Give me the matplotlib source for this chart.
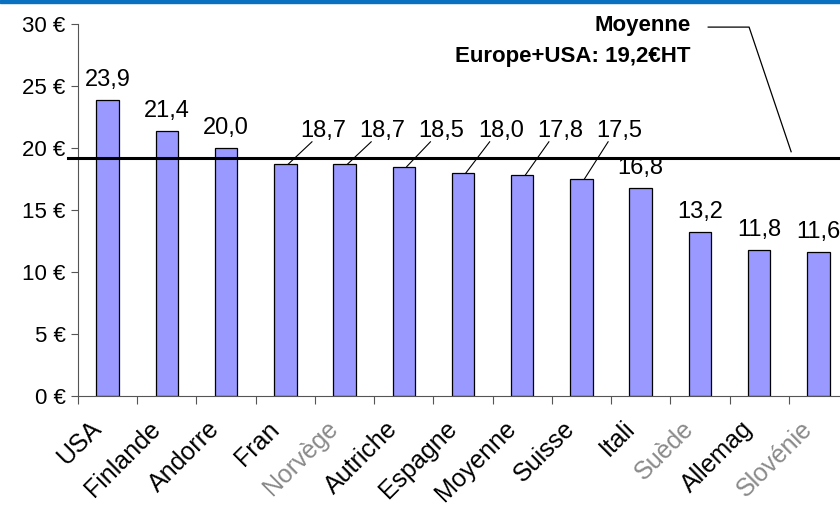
import matplotlib
matplotlib.use("Agg")
import matplotlib.pyplot as plt
from matplotlib.patches import Rectangle
from matplotlib.transforms import ScaledTranslation

plt.rcParams['font.family'] = ['Liberation Sans', 'DejaVu Sans']

# donnees
pays = ['USA', 'Finlande', 'Andorre', 'Fran', 'Norvège', 'Autriche', 'Espagne',
        'Moyenne', 'Suisse', 'Itali', 'Suède', 'Allemag', 'Slovénie']
prix = [23.9, 21.4, 20.0, 18.7, 18.7, 18.5, 18.0, 17.8, 17.5, 16.8, 13.2, 11.8, 11.6]
etiquettes = ['23,9', '21,4', '20,0', '18,7', '18,7', '18,5', '18,0', '17,8', '17,5',
              '16,8', '13,2', '11,8', '11,6']
gris = ['Norvège', 'Suède', 'Slovénie']  # labels en gris
decales = [3, 4, 5, 6, 7, 8]  # labels avec trait de rappel
moyenne = 19.2
yticks = [0, 5, 10, 15, 20, 25, 30]

fig = plt.figure(figsize=(8.4, 5.16), dpi=100)
ax = fig.add_axes([78 / 840, 120 / 516, 770 / 840, 372 / 516])

x = list(range(len(pays)))
ax.bar(x, prix, width=0.38, color='#9999FF', edgecolor='black', linewidth=0.9, zorder=2)

# ligne de moyenne
ax.plot([-0.67, 12.6], [moyenne, moyenne], color='black', lw=2.2, clip_on=False, zorder=3)

# valeurs
for i, v in enumerate(prix):
    if i in decales:
        ax.plot([i + 0.05, i + 0.45], [v, 20.5], color='black', lw=0.8, zorder=3)
        ax.text(i + 0.64, 20.85, etiquettes[i], ha='center', va='baseline', fontsize=17)
    else:
        ax.annotate(etiquettes[i], (i, v), xytext=(0, 10), textcoords='offset points',
                    ha='center', va='baseline', fontsize=17)

# annotation moyenne
ax.text(9.84, 29.9, 'Moyenne', ha='right', va='center', fontsize=16, fontweight='bold')
ax.text(9.84, 27.35, 'Europe+USA: 19,2€HT', ha='right', va='center', fontsize=16,
        fontweight='bold')
ax.plot([10.14, 10.83, 11.54], [29.75, 29.75, 19.7], color='black', lw=0.9,
        clip_on=False, zorder=3)

ax.set_xlim(-0.5, 12.5)
ax.set_ylim(0, 30)
ax.set_yticks(yticks)
ax.set_yticklabels([f'{t} €' for t in yticks], fontsize=16)

ax.set_xticks([i + 0.5 for i in range(-1, len(pays))])
ax.set_xticklabels([])
ax.set_xticks(x, minor=True)
ax.set_xticklabels(pays, minor=True, rotation=45, ha='right', va='center',
                   rotation_mode='anchor', fontsize=18)
ax.tick_params(axis='x', which='major', length=6, color='#555555')
ax.tick_params(axis='x', which='minor', length=0, pad=21)
ax.tick_params(axis='y', length=5, color='#555555', pad=4)
decal = ScaledTranslation(-10 / 100, 0, fig.dpi_scale_trans)
for lab in ax.get_xticklabels(minor=True):
    lab.set_transform(lab.get_transform() + decal)
    if lab.get_text() in gris:
        lab.set_color('#8a8a8a')

for s in ['top', 'right']:
    ax.spines[s].set_visible(False)
for s in ['left', 'bottom']:
    ax.spines[s].set_color('#555555')

# bande bleue en haut
fig.add_artist(Rectangle((0, 1 - 3 / 516), 1, 3 / 516, transform=fig.transFigure,
                         color='#0A70C0'))

fig.savefig('out.png', dpi=100)
